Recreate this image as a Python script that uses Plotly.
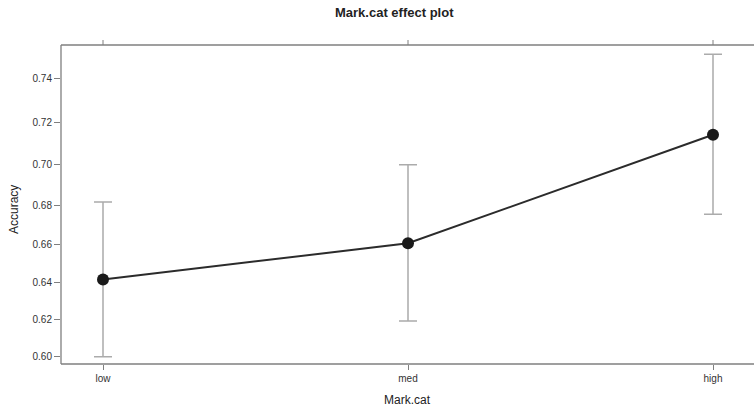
import numpy as np
import plotly.graph_objects as go

categories = ["low", "med", "high"]
fit = [0.6415, 0.6605, 0.7142]
lower = [0.5996, 0.6193, 0.6753]
upper = [0.6815, 0.6998, 0.7505]
y_ticks = [0.60, 0.62, 0.64, 0.66, 0.68, 0.70, 0.72, 0.74]
y_tick_labels = ["0.60", "0.62", "0.64", "0.66", "0.68", "0.70", "0.72", "0.74"]


def logit(p):
    p = np.asarray(p, dtype=float)
    return np.log(p / (1 - p))


xi = list(range(len(categories)))
yf = logit(fit)
yl = logit(lower)
yu = logit(upper)

W, H = 754, 409
pl, pr, pt, pb = 61, 754, 45, 364


def px_to_paper(x, y):
    return (x - pl) / (pr - pl), (pb - y) / (pb - pt)


fig = go.Figure()
fig.add_trace(go.Scatter(
    x=xi, y=yf, mode="lines+markers",
    line=dict(color="#2b2b2b", width=2),
    marker=dict(color="#1a1a1a", size=12),
    error_y=dict(type="data", symmetric=False, array=yu - yf, arrayminus=yf - yl,
                 color="#ababab", thickness=1.5, width=9),
    hoverinfo="skip", showlegend=False,
))

tx, ty = px_to_paper(394, 12)
ax_x, ax_y = px_to_paper(408, 400)
ay_x, ay_y = px_to_paper(14, 210)

# x range so that 'low' sits at px 103 and 'high' at px 713
ppu = (713 - 103) / 2
x_lo = -(103 - pl) / ppu
x_hi = 2 + (pr - 713) / ppu

axis_col = "#7f7f7f"
shapes = [
    dict(type="line", xref="paper", yref="paper", x0=0, x1=0, y0=0, y1=1,
         line=dict(color=axis_col, width=1.3)),
    dict(type="line", xref="paper", yref="paper", x0=0, x1=1, y0=0, y1=0,
         line=dict(color=axis_col, width=1.3)),
    dict(type="line", xref="paper", yref="paper", x0=0, x1=1, y0=1, y1=1,
         line=dict(color=axis_col, width=1.3)),
]
for v in xi:
    shapes.append(dict(type="line", xref="x", yref="paper", x0=v, x1=v,
                       y0=1, y1=1 + 5 / (pb - pt), line=dict(color=axis_col, width=1)))

font_family = "Liberation Sans, Arial, sans-serif"
fig.update_layout(
    width=W, height=H,
    margin=dict(l=pl, r=W - pr, t=pt, b=H - pb, pad=0, autoexpand=False),
    paper_bgcolor="white", plot_bgcolor="white",
    font=dict(family=font_family, color="#333333"),
    xaxis=dict(
        range=[x_lo, x_hi], tickmode="array", tickvals=xi, ticktext=categories,
        showgrid=False, zeroline=False, showline=False,
        ticks="outside", ticklen=5, tickcolor=axis_col, tickwidth=1,
        tickfont=dict(size=10, color="#333333"), automargin=False,
    ),
    yaxis=dict(
        range=[logit(0.5956), logit(0.7545)], tickmode="array",
        tickvals=logit(y_ticks), ticktext=y_tick_labels,
        showgrid=False, zeroline=False, showline=False,
        ticks="outside", ticklen=6, tickcolor=axis_col, tickwidth=1,
        tickfont=dict(size=10, color="#333333"), automargin=False,
    ),
    shapes=shapes,
    annotations=[
        dict(text="<b>Mark.cat effect plot</b>", x=tx, y=ty, xref="paper", yref="paper",
             xanchor="center", yanchor="middle",
             showarrow=False, font=dict(size=13, color="#222222")),
        dict(text="Mark.cat", x=ax_x, y=ax_y, xref="paper", yref="paper",
             xanchor="center", yanchor="middle",
             showarrow=False, font=dict(size=12, color="#222222")),
        dict(text="Accuracy", x=ay_x, y=ay_y, xref="paper", yref="paper",
             xanchor="center", yanchor="middle", textangle=-90,
             showarrow=False, font=dict(size=12, color="#222222")),
    ],
)

fig.write_html("out.html", config={"displayModeBar": False, "staticPlot": True},
               post_script="document.body.style.margin='0px';document.body.style.overflow='hidden';"
                           "document.documentElement.style.overflow='hidden';")
